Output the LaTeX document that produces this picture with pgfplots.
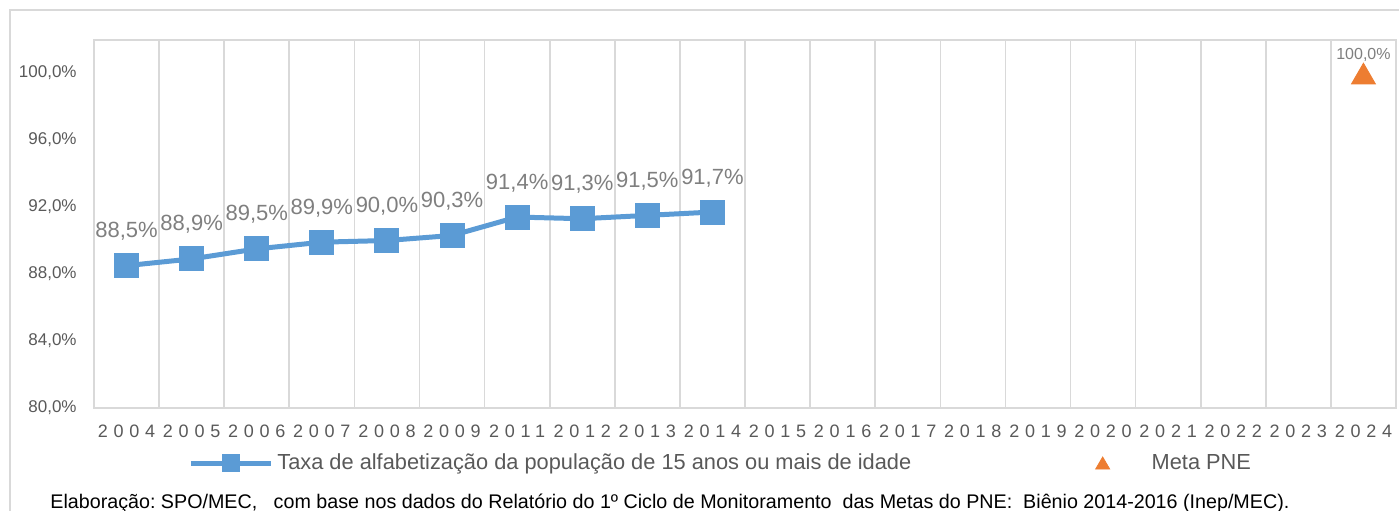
\documentclass[border=0pt]{standalone}
\usepackage{fontspec}
\setmainfont{Liberation Sans}
\newfontfamily\spaced[LetterSpace=32]{Liberation Sans}
\usepackage{pgfplots}
\usepackage{pgfplotstable}
\pgfplotsset{compat=1.18}

\definecolor{serieblue}{HTML}{5B9BD5}
\definecolor{metaorange}{HTML}{ED7D31}
\definecolor{gridgray}{HTML}{D9D9D9}
\definecolor{ticktext}{HTML}{595959}
\definecolor{labeltext}{HTML}{7F7F7F}

% taxa de alfabetizacao, 15 anos ou mais (categoria 0 = 2004)
\pgfplotstableread{
idx val
0 88.5
1 88.9
2 89.5
3 89.9
4 90.0
5 90.3
6 91.4
7 91.3
8 91.5
9 91.7
}\taxa
% meta PNE em 2024
\pgfplotstableread{
idx val
19 100.0
}\meta

\begin{document}
\begin{tikzpicture}
\draw[gridgray, line width=0.8pt] (-42pt,-60pt) -- (-42pt,199pt) -- (660pt,199pt);
\begin{axis}[
  at={(0,0)}, anchor=south west,
  scale only axis, width=651pt, height=184pt,
  xmin=-0.5, xmax=19.5, ymin=80, ymax=101.97,
  axis line style={gridgray, line width=0.8pt},
  xtick={0,...,19},
  xticklabels={2004,2005,2006,2007,2008,2009,2011,2012,2013,2014,2015,2016,2017,2018,2019,2020,2021,2022,2023,2024},
  minor xtick={0.5,1.5,...,18.5},
  xminorgrids,
  minor grid style={gridgray, line width=0.8pt},
  major tick length=0pt, minor tick length=0pt,
  ytick={80,84,...,100},
  yticklabel={\pgfmathprintnumber[fixed,fixed zerofill,precision=1,use comma]{\tick}\%},
  /pgf/number format/assume math mode=true,
  yticklabel style={font=\fontsize{8.5}{10}\selectfont, text=ticktext, inner sep=0pt, xshift=-8.5pt},
  xticklabel style={font=\fontsize{9}{10}\selectfont\spaced, text=ticktext, inner sep=0pt, yshift=-8.5pt},
  legend columns=2,
  legend style={draw=none, fill=none, at={(axis description cs:0.0722,-0.1495)}, anchor=west,
    inner sep=0pt, font=\fontsize{10.9}{12}\selectfont, text=ticktext,
    /tikz/every even column/.append style={column sep=90pt}},
]
\addplot[serieblue, line width=2.5pt, mark=square*, mark size=6pt,
  mark options={solid, line width=0pt},
  nodes near coords={\pgfmathprintnumber[fixed,fixed zerofill,precision=1,use comma]{\pgfplotspointmeta}\%},
  every node near coord/.append style={font=\fontsize{11}{13}\selectfont, text=labeltext, anchor=base, inner sep=0pt, yshift=14pt},
  legend image code/.code={
    \draw[serieblue, line width=2.5pt] (0pt,0pt) -- (40pt,0pt);
    \fill[serieblue] (16.75pt,-3.25pt) rectangle (23.25pt,3.25pt);
  }] table[x=idx, y=val] {\taxa};
\addlegendentry{Taxa de alfabetização da população de 15 anos ou mais de idade}
\addplot[only marks, metaorange, mark=triangle*, mark size=6.9pt,
  mark options={yshift=-2pt},
  nodes near coords={\pgfmathprintnumber[fixed,fixed zerofill,precision=1,use comma]{\pgfplotspointmeta}\%},
  every node near coord/.append style={font=\fontsize{8}{9}\selectfont, text=labeltext, anchor=base, inner sep=0pt, yshift=9pt},
  legend image code/.code={
    \fill[metaorange] (0pt,-3pt) -- (7pt,-3pt) -- (3.5pt,3pt) -- cycle;
    \path[draw=none] (0pt,0pt) -- (26pt,0pt);
  }] table[x=idx, y=val] {\meta};
\addlegendentry{Meta PNE}
\end{axis}
\node[anchor=base west, inner sep=0pt, font=\fontsize{9.85}{12}\selectfont, text=black] at (-22pt,-50pt)
  {Elaboração:\ SPO/MEC,\ \ \ com base nos dados do Relatório do 1º Ciclo de Monitoramento\ \ das Metas do PNE:\ \ Biênio 2014-2016 (Inep/MEC).};
\pgfresetboundingbox
\path[use as bounding box] (-47pt,-51pt) rectangle (652.5pt,204pt);
\end{tikzpicture}
\end{document}
